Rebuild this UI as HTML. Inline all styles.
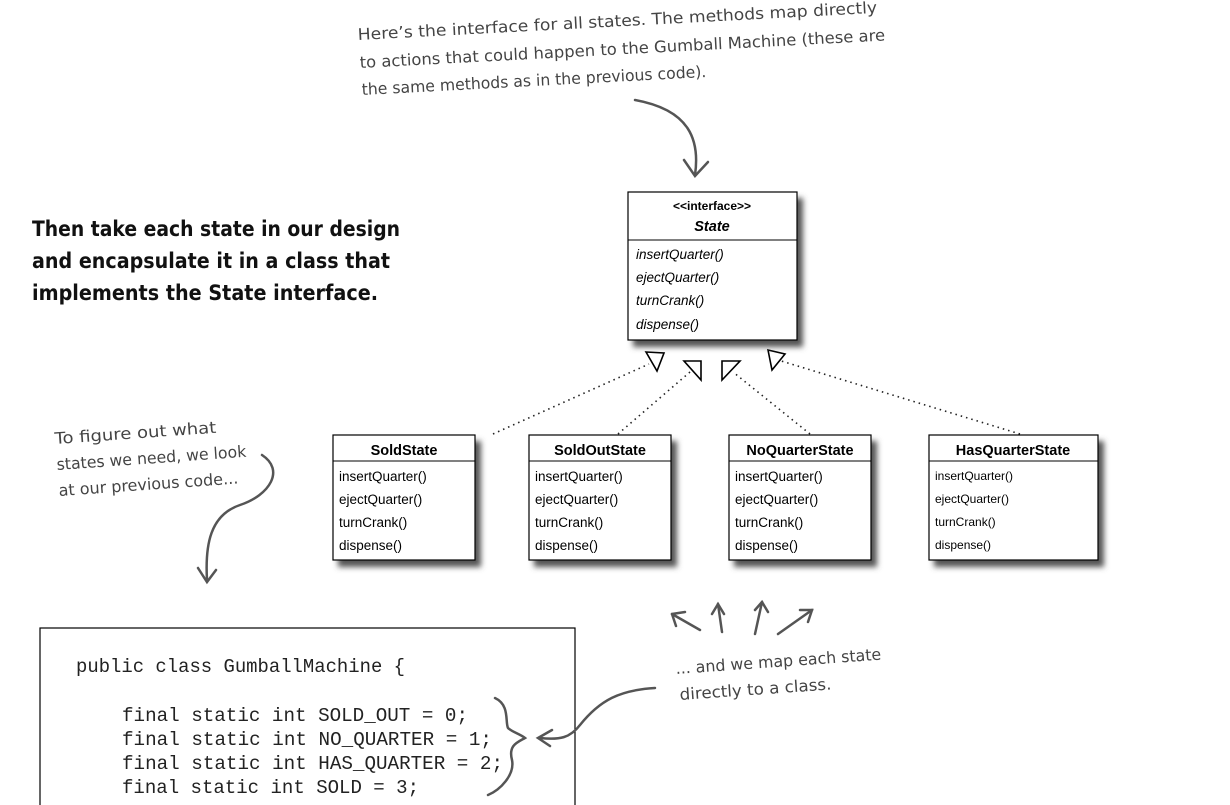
<!DOCTYPE html>
<html><head><meta charset="utf-8">
<style>
html,body{margin:0;padding:0;background:#fff;}
body{width:1230px;height:805px;overflow:hidden;position:relative;}
svg{position:absolute;left:0;top:0;}
.hand{font-family:"Comic Sans MS","DejaVu Sans",sans-serif;fill:#444;font-size:16px;}
.h{font-family:"Liberation Sans",sans-serif;font-weight:bold;font-size:14.5px;fill:#000;}
.m{font-family:"Liberation Sans",sans-serif;font-size:13.5px;fill:#000;}
.ms{font-family:"Liberation Sans",sans-serif;font-size:12px;fill:#000;}
.code{font-family:"Liberation Mono",monospace;font-size:19.5px;fill:#222;}
.big{font-family:"DejaVu Sans",sans-serif;font-weight:bold;font-size:21px;fill:#111;}
</style></head><body>
<svg width="1230" height="805" viewBox="0 0 1230 805">
<defs>
<filter id="sh" x="-10%" y="-10%" width="130%" height="130%"><feGaussianBlur stdDeviation="3"/></filter>
</defs>
<!-- code box -->
<rect x="40" y="628" width="535" height="190" fill="#fff" stroke="#000" stroke-width="1.2"/>
<g class="code">
<text x="76" y="672" textLength="329" lengthAdjust="spacingAndGlyphs">public class GumballMachine {</text>
<text x="122" y="721" textLength="346" lengthAdjust="spacingAndGlyphs">final static int SOLD_OUT = 0;</text>
<text x="122" y="745" textLength="370" lengthAdjust="spacingAndGlyphs">final static int NO_QUARTER = 1;</text>
<text x="122" y="769" textLength="381" lengthAdjust="spacingAndGlyphs">final static int HAS_QUARTER = 2;</text>
<text x="122" y="793" textLength="297" lengthAdjust="spacingAndGlyphs">final static int SOLD = 3;</text>
</g>

<!-- handwritten -->
<g class="hand">
<text x="358" y="40" transform="rotate(-3 358 40)" textLength="520" lengthAdjust="spacingAndGlyphs">Here’s the interface for all states.  The methods map directly</text>
<text x="360" y="68" transform="rotate(-3 360 68)" textLength="526" lengthAdjust="spacingAndGlyphs">to actions that could happen to the Gumball Machine (these are</text>
<text x="362" y="95" transform="rotate(-3 362 95)" textLength="345" lengthAdjust="spacingAndGlyphs">the same methods as in the previous code).</text>
<text x="55" y="444" transform="rotate(-4 55 444)" textLength="162" lengthAdjust="spacingAndGlyphs">To figure out what</text>
<text x="57" y="470" transform="rotate(-4 57 470)" textLength="190" lengthAdjust="spacingAndGlyphs">states we need, we look</text>
<text x="59" y="496" transform="rotate(-4 59 496)" textLength="180" lengthAdjust="spacingAndGlyphs">at our previous code...</text>
<text x="676" y="674" transform="rotate(-4 676 674)" textLength="206" lengthAdjust="spacingAndGlyphs">... and we map each state</text>
<text x="680" y="700" transform="rotate(-4 680 700)" textLength="152" lengthAdjust="spacingAndGlyphs">directly to a class.</text>
</g>
<text x="32" y="236" class="big" textLength="368" lengthAdjust="spacingAndGlyphs">Then take each state in our design</text>
<text x="32" y="268" class="big" textLength="358" lengthAdjust="spacingAndGlyphs">and encapsulate it in a class that</text>
<text x="32" y="300" class="big" textLength="346" lengthAdjust="spacingAndGlyphs">implements the State interface.</text>

<!-- curvy arrows -->
<g fill="none" stroke="#555" stroke-width="2.5" stroke-linecap="round">
<path d="M635 100 C690 110 700 140 695 175"/><path d="M684 160 L695 176 L708 162"/>
<path d="M262 455 C285 470 270 495 240 505 C210 515 205 545 207 580"/><path d="M198 568 L207 582 L216 570"/>
<path d="M655 688 C620 690 600 700 580 725 C570 738 560 740 540 738"/><path d="M552 730 L538 738 L550 746"/>
<path d="M700 630 L672 614"/><path d="M672 614 L685 612 M672 614 L676 626"/>
<path d="M722 632 L718 604"/><path d="M712 614 L718 604 L724 614"/>
<path d="M755 634 L762 602"/><path d="M755 610 L762 602 L768 612"/>
<path d="M778 634 L812 610"/><path d="M800 610 L812 610 L808 622"/>
<path d="M495 698 C510 705 505 722 508 728 C512 732 520 734 525 738 C518 742 508 745 512 760 C515 775 500 790 488 795"/>
</g>

<!-- dotted connectors -->
<g fill="none" stroke="#222" stroke-width="1.6" stroke-dasharray="1.5 4">
<path d="M493 434 L649 364"/>
<path d="M618 434 L690 372"/>
<path d="M810 434 L733 372"/>
<path d="M1020 434 L778 360"/>
</g>
<g fill="#fff" stroke="#000" stroke-width="1.6">
<polygon points="646,352 664,353 657,371"/>
<polygon points="684,361 701,361 701,380"/>
<polygon points="722,361 740,361 722,380"/>
<polygon points="768,350 785,354 772,370"/>
</g>

<!-- interface box -->
<rect x="633" y="198" width="170" height="149" fill="#555" filter="url(#sh)"/>
<rect x="628" y="192" width="169" height="148" fill="#fff" stroke="#000" stroke-width="1.2"/>
<line x1="628" y1="240" x2="797" y2="240" stroke="#000"/>
<text x="712" y="210" text-anchor="middle" class="ms" font-weight="bold">&lt;&lt;interface&gt;&gt;</text>
<text x="712" y="231" text-anchor="middle" class="h" font-style="italic">State</text>
<g class="m" font-style="italic">
<text x="636" y="259">insertQuarter()</text><text x="636" y="282">ejectQuarter()</text>
<text x="636" y="305">turnCrank()</text><text x="636" y="329">dispense()</text>
</g>

<!-- state boxes -->
<g>
<rect x="338" y="441" width="143" height="126" fill="#555" filter="url(#sh)"/>
<rect x="333" y="435" width="142" height="125" fill="#fff" stroke="#000" stroke-width="1.2"/>
<line x1="333" y1="461" x2="475" y2="461" stroke="#000"/>
<text x="404" y="455" text-anchor="middle" class="h">SoldState</text>
<g class="m"><text x="339" y="481">insertQuarter()</text><text x="339" y="504">ejectQuarter()</text><text x="339" y="527">turnCrank()</text><text x="339" y="550">dispense()</text></g>

<rect x="534" y="441" width="143" height="126" fill="#555" filter="url(#sh)"/>
<rect x="529" y="435" width="142" height="125" fill="#fff" stroke="#000" stroke-width="1.2"/>
<line x1="529" y1="461" x2="671" y2="461" stroke="#000"/>
<text x="600" y="455" text-anchor="middle" class="h">SoldOutState</text>
<g class="m"><text x="535" y="481">insertQuarter()</text><text x="535" y="504">ejectQuarter()</text><text x="535" y="527">turnCrank()</text><text x="535" y="550">dispense()</text></g>

<rect x="734" y="441" width="143" height="126" fill="#555" filter="url(#sh)"/>
<rect x="729" y="435" width="142" height="125" fill="#fff" stroke="#000" stroke-width="1.2"/>
<line x1="729" y1="461" x2="871" y2="461" stroke="#000"/>
<text x="800" y="455" text-anchor="middle" class="h">NoQuarterState</text>
<g class="m"><text x="735" y="481">insertQuarter()</text><text x="735" y="504">ejectQuarter()</text><text x="735" y="527">turnCrank()</text><text x="735" y="550">dispense()</text></g>

<rect x="934" y="441" width="170" height="126" fill="#555" filter="url(#sh)"/>
<rect x="929" y="435" width="169" height="125" fill="#fff" stroke="#000" stroke-width="1.2"/>
<line x1="929" y1="461" x2="1098" y2="461" stroke="#000"/>
<text x="1013" y="455" text-anchor="middle" class="h">HasQuarterState</text>
<g class="ms"><text x="935" y="480">insertQuarter()</text><text x="935" y="503">ejectQuarter()</text><text x="935" y="526">turnCrank()</text><text x="935" y="549">dispense()</text></g>
</g>
</svg>
</body></html>
